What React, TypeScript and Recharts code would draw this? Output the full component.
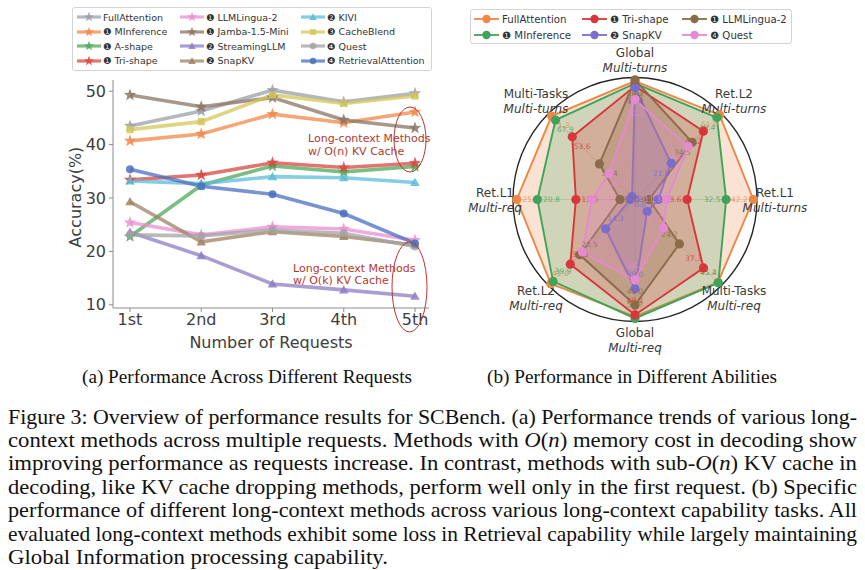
import React from 'react';
import {
  LineChart,
  Line,
  XAxis,
  YAxis,
  RadarChart,
  Radar,
  PolarGrid,
  PolarAngleAxis,
  PolarRadiusAxis,
} from 'recharts';

// ---- (a) accuracy per request ----
const requests = ['1st', '2nd', '3rd', '4th', '5th'];

const fullAttention = [43.5, 46.3, 50.2, 48.0, 49.6];
const minference = [40.7, 42.0, 45.7, 44.1, 46.1];
const aShape = [22.8, 32.4, 36.0, 34.9, 35.9];
const triShape = [33.4, 34.3, 36.6, 35.7, 36.5];
const llmlingua = [25.4, 23.1, 24.6, 24.2, 22.1];
const jamba = [49.3, 47.1, 48.8, 44.6, 43.1];
const streamingLLM = [23.6, 19.2, 13.9, 12.8, 11.6];
const snapKV = [29.3, 21.8, 23.7, 22.8, 21.2];
const kivi = [33.2, 32.7, 34.0, 33.8, 32.9];
const cacheBlend = [42.8, 44.3, 49.3, 47.7, 49.1];
const quest = [23.1, 22.9, 24.0, 23.4, 20.9];
const retrievalAttention = [35.4, 32.2, 30.7, 27.1, 21.5];

const accuracyTicks = [10, 20, 30, 40, 50];

// ---- (b) abilities (raw scores, drawn relative to each axis' max) ----
const abilityAxes = [
  'Global|Multi-turns',
  'Ret.L2|Multi-turns',
  'Ret.L1|Multi-turns',
  'Multi-Tasks|Multi-req',
  'Global|Multi-req',
  'Ret.L2|Multi-req',
  'Ret.L1|Multi-req',
  'Multi-Tasks|Multi-turns',
];
const axisMax = [37, 52, 43.5, 47, 52, 42, 26, 73.7];

const radarFull = [35.9, 51.0, 42.2, 45.2, 49.9, 41.0, 25.2, 71.3];
const radarMinference = [35.2, 49.4, 32.5, 45.4, 50.7, 39.9, 20.8, 67.9];
const radarTri = [34.4, 41.2, 18.6, 37.3, 49.2, 31.5, 12.6, 53.6];
const radarSnap = [34.0, 21.8, 8.3, 6.6, 38.0, 14.3, 1.0, 2.5];
const radarLingua = [36.3, 34.5, 5.0, 24.2, 45.0, 26.9, 3.2, 30.4];
const radarQuest = [30.3, 32.0, 11.3, 15.5, 34.3, 25.6, 9.2, 22.3];

type Shape = 'star' | 'tri' | 'square' | 'circle';

const lineSeries: { name: string; tag: string; values: number[]; color: string; shape: Shape }[] = [
  { name: 'FullAttention', tag: '', values: fullAttention, color: '#9c9fab', shape: 'star' },
  { name: 'MInference', tag: '❶', values: minference, color: '#f0884a', shape: 'star' },
  { name: 'A-shape', tag: '❶', values: aShape, color: '#4caa58', shape: 'star' },
  { name: 'Tri-shape', tag: '❶', values: triShape, color: '#d9463f', shape: 'star' },
  { name: 'LLMLingua-2', tag: '❶', values: llmlingua, color: '#e98fd1', shape: 'star' },
  { name: 'Jamba-1.5-Mini', tag: '❶', values: jamba, color: '#8a7563', shape: 'star' },
  { name: 'StreamingLLM', tag: '❷', values: streamingLLM, color: '#8d7cc6', shape: 'tri' },
  { name: 'SnapKV', tag: '❷', values: snapKV, color: '#a08262', shape: 'tri' },
  { name: 'KIVI', tag: '❷', values: kivi, color: '#5bbcd8', shape: 'tri' },
  { name: 'CacheBlend', tag: '❸', values: cacheBlend, color: '#d3c658', shape: 'square' },
  { name: 'Quest', tag: '❹', values: quest, color: '#a3a3a3', shape: 'circle' },
  { name: 'RetrievalAttention', tag: '❹', values: retrievalAttention, color: '#4a6fc2', shape: 'circle' },
];

const radarSeries = [
  { name: 'FullAttention', tag: '', values: radarFull, color: '#ee8646' },
  { name: 'MInference', tag: '❶', values: radarMinference, color: '#3fa35a' },
  { name: 'Tri-shape', tag: '❶', values: radarTri, color: '#d8363a' },
  { name: 'SnapKV', tag: '❷', values: radarSnap, color: '#7b6ccf' },
  { name: 'LLMLingua-2', tag: '❶', values: radarLingua, color: '#8b6b4a' },
  { name: 'Quest', tag: '❹', values: radarQuest, color: '#e58ad0' },
];

const CX = 195;
const CY = 199.5;
const R = 122;

function starPath(cx: number, cy: number, ro: number, ri: number) {
  let d = '';
  for (let i = 0; i < 10; i++) {
    const rad = i % 2 === 0 ? ro : ri;
    const a = -Math.PI / 2 + (i * Math.PI) / 5;
    d += (i === 0 ? 'M' : 'L') + (cx + rad * Math.cos(a)).toFixed(2) + ',' + (cy + rad * Math.sin(a)).toFixed(2);
  }
  return d + 'Z';
}

function MarkerShape({ cx, cy, shape, color, scale = 1 }: { cx: number; cy: number; shape: Shape; color: string; scale?: number }) {
  if (shape === 'star') return <path d={starPath(cx, cy, 6.5 * scale, 2.7 * scale)} fill={color} fillOpacity={0.85} />;
  if (shape === 'tri') {
    const s = 4.8 * scale;
    return <path d={`M${cx},${cy - s}L${cx + s},${cy + s * 0.75}L${cx - s},${cy + s * 0.75}Z`} fill={color} fillOpacity={0.85} />;
  }
  if (shape === 'square') {
    const s = 3.6 * scale;
    return <rect x={cx - s} y={cy - s} width={2 * s} height={2 * s} fill={color} fillOpacity={0.85} />;
  }
  return <circle cx={cx} cy={cy} r={4 * scale} fill={color} fillOpacity={0.85} />;
}

const lineDot = (shape: Shape, color: string) => (props: any) => {
  const { cx, cy, index } = props;
  if (cx == null || cy == null) return <g key={`e-${index}`} />;
  return (
    <g key={`d-${index}`}>
      <MarkerShape cx={cx} cy={cy} shape={shape} color={color} />
    </g>
  );
};

const radarDot = (si: number) => (props: any) => {
  const { cx, cy, index } = props;
  const s = radarSeries[si];
  if (cx == null || cy == null) return <g key={`e-${index}`} />;
  const dx = cx - CX;
  const dy = cy - CY;
  const dist = Math.hypot(dx, dy);
  const k = dist > 18 ? (dist - 14) / dist : 0.4;
  return (
    <g key={`rd-${index}`}>
      <circle cx={cx} cy={cy} r={4.6} fill={s.color} />
      <text
        x={CX + dx * k}
        y={CY + dy * k}
        fontSize={7.5}
        fill={s.color}
        fillOpacity={0.8}
        textAnchor="middle"
        dominantBaseline="central"
        fontFamily='"DejaVu Sans", sans-serif'
      >
        {s.values[index].toFixed(1)}
      </text>
    </g>
  );
};

const angleTick = (props: any) => {
  const { payload } = props;
  const [top, bottom] = String(payload.value).split('|');
  const a = (payload.coordinate * Math.PI) / 180;
  const x = CX + 140 * Math.cos(a);
  const y = CY - 140 * Math.sin(a);
  return (
    <g>
      <text x={x} y={y - 7} textAnchor="middle" dominantBaseline="central" fontSize={12} fill="#3a3a3a" fontFamily='"DejaVu Sans", sans-serif'>
        {top}
      </text>
      <text x={x} y={y + 8} textAnchor="middle" dominantBaseline="central" fontSize={12} fontStyle="italic" fill="#3a3a3a" fontFamily='"DejaVu Sans", sans-serif'>
        {bottom}
      </text>
    </g>
  );
};

function LegendSwatch({ color, shape }: { color: string; shape: Shape }) {
  return (
    <svg width={26} height={12} style={{ flex: 'none' }}>
      <line x1={1} y1={6} x2={25} y2={6} stroke={color} strokeWidth={3.2} strokeOpacity={0.75} />
      <MarkerShape cx={13} cy={6} shape={shape} color={color} scale={0.8} />
    </svg>
  );
}

export default function App() {
  const lineData = requests.map((r, i) => {
    const row: Record<string, any> = { request: r };
    lineSeries.forEach((s) => {
      row[s.name] = s.values[i];
    });
    return row;
  });

  const radarData = abilityAxes.map((a, i) => {
    const row: Record<string, any> = { axis: a };
    radarSeries.forEach((s) => {
      row[s.name] = (s.values[i] / axisMax[i]) * 100;
    });
    return row;
  });

  const axisColor = '#8c8c8c';
  const tickStyle = { fontSize: 16, fill: '#3d3d3d', fontFamily: '"DejaVu Sans", sans-serif' };

  const caption: React.ReactNode[] = [
    <>Figure 3: Overview of performance results for SCBench. (a) Performance trends of various long-</>,
    <>
      context methods across multiple requests. Methods with <tspan fontStyle="italic">O</tspan>(<tspan fontStyle="italic">n</tspan>) memory cost in decoding show
    </>,
    <>
      improving performance as requests increase. In contrast, methods with sub-<tspan fontStyle="italic">O</tspan>(<tspan fontStyle="italic">n</tspan>) KV cache in
    </>,
    <>decoding, like KV cache dropping methods, perform well only in the first request. (b) Specific</>,
    <>performance of different long-context methods across various long-context capability tasks. All</>,
    <>evaluated long-context methods exhibit some loss in Retrieval capability while largely maintaining</>,
    <>Global Information processing capability.</>,
  ];
  const captionY = [424, 447, 470, 494, 517, 541, 564];

  return (
    <div
      style={{
        position: 'absolute',
        left: 0,
        top: 0,
        width: 865,
        height: 570,
        background: '#fff',
        overflow: 'hidden',
        fontFamily: '"DejaVu Sans", sans-serif',
      }}
    >
      <div style={{ position: 'absolute', left: 0, top: 0 }}>
        <LineChart width={440} height={360} data={lineData} margin={{ top: 80, right: 11, bottom: 22, left: 63 }}>
          <XAxis
            dataKey="request"
            padding={{ left: 17, right: 14 }}
            interval={0}
            height={30}
            tick={tickStyle}
            tickSize={4}
            tickMargin={2}
            stroke={axisColor}
          />
          <XAxis xAxisId="top" orientation="top" dataKey="request" padding={{ left: 17, right: 14 }} height={0} tick={false} tickLine={false} stroke={axisColor} />
          <YAxis
            domain={[9.4, 52.1]}
            ticks={accuracyTicks}
            allowDataOverflow
            width={50}
            tick={tickStyle}
            tickSize={4}
            tickMargin={3}
            stroke={axisColor}
          />
          <YAxis yAxisId="right" orientation="right" domain={[9.4, 52.1]} width={0} tick={false} tickLine={false} stroke={axisColor} />
          {lineSeries.map((s) => (
            <Line
              key={s.name}
              dataKey={s.name}
              stroke={s.color}
              strokeWidth={3.6}
              strokeOpacity={0.75}
              dot={lineDot(s.shape, s.color)}
              activeDot={false}
              isAnimationActive={false}
            />
          ))}
        </LineChart>
      </div>

      {/* legend (a) */}
      <div
        style={{
          position: 'absolute',
          left: 72,
          top: 7,
          width: 360,
          height: 64,
          border: '1px solid #d4d4d4',
          borderRadius: 3,
          boxSizing: 'border-box',
          padding: '2px 0 0 3px',
          display: 'grid',
          gridAutoFlow: 'column',
          gridTemplateRows: 'repeat(4, 14.5px)',
          gridTemplateColumns: '103px 121px 130px',
          fontSize: 9.5,
          color: '#333',
        }}
      >
        {lineSeries.map((s) => (
          <div key={s.name} style={{ display: 'flex', alignItems: 'center', whiteSpace: 'nowrap' }}>
            <LegendSwatch color={s.color} shape={s.shape} />
            <span style={{ marginLeft: 1 }}>{s.tag ? `${s.tag} ${s.name}` : s.name}</span>
          </div>
        ))}
      </div>

      <div style={{ position: 'absolute', left: 440, top: 0 }}>
        <RadarChart width={425} height={360} data={radarData} cx={CX} cy={CY} outerRadius={R} margin={{ top: 0, right: 0, bottom: 0, left: 0 }}>
          <PolarGrid gridType="circle" polarRadius={[]} stroke="#d6d6d6" strokeWidth={0.8} />
          <PolarRadiusAxis domain={[0, 100]} tick={false} axisLine={false} />
          {radarSeries.map((s, i) => (
            <Radar
              key={s.name}
              name={s.name}
              dataKey={s.name}
              stroke={s.color}
              strokeWidth={1.9}
              fill={s.color}
              fillOpacity={0.23}
              dot={radarDot(i)}
              activeDot={false}
              isAnimationActive={false}
            />
          ))}
          <PolarAngleAxis dataKey="axis" tick={angleTick} tickLine={false} axisLineType="circle" axisLine={{ stroke: '#262626', strokeWidth: 1.4 }} />
        </RadarChart>
      </div>

      {/* legend (b) */}
      <div
        style={{
          position: 'absolute',
          left: 470,
          top: 9,
          width: 322,
          height: 35,
          border: '1px solid #d4d4d4',
          borderRadius: 3,
          boxSizing: 'border-box',
          padding: '1px 0 0 2px',
          display: 'grid',
          gridAutoFlow: 'column',
          gridTemplateRows: 'repeat(2, 16px)',
          gridTemplateColumns: '108px 100px 110px',
          fontSize: 10.2,
          color: '#333',
        }}
      >
        {radarSeries.map((s) => (
          <div key={s.name} style={{ display: 'flex', alignItems: 'center', whiteSpace: 'nowrap' }}>
            <svg width={27} height={12} style={{ flex: 'none' }}>
              <line x1={1} y1={6} x2={26} y2={6} stroke={s.color} strokeWidth={1.8} />
              <circle cx={13.5} cy={6} r={4.2} fill={s.color} />
            </svg>
            <span style={{ marginLeft: 2 }}>{s.tag ? `${s.tag} ${s.name}` : s.name}</span>
          </div>
        ))}
      </div>

      {/* annotations, axis titles and captions */}
      <svg width={865} height={570} style={{ position: 'absolute', left: 0, top: 0, pointerEvents: 'none' }}>
        <text x={75} y={197} transform="rotate(-90 75 197)" textAnchor="middle" dominantBaseline="central" fontSize={16} fill="#3d3d3d" fontFamily='"DejaVu Sans", sans-serif'>
          Accuracy(%)
        </text>
        <text x={271} y={342} textAnchor="middle" dominantBaseline="central" fontSize={16} fill="#3d3d3d" fontFamily='"DejaVu Sans", sans-serif'>
          Number of Requests
        </text>

        <ellipse cx={410} cy={139.5} rx={16} ry={32.5} fill="none" stroke="#b4392e" strokeWidth={1} />
        <ellipse cx={409.5} cy={287} rx={17.5} ry={45} fill="none" stroke="#b4392e" strokeWidth={1} />
        <g fontSize={11} fill="#b4392e" fontFamily='"DejaVu Sans", sans-serif'>
          <text x={308} y={142}>Long-context Methods</text>
          <text x={308} y={155}>w/ O(n) KV Cache</text>
          <text x={293} y={272}>Long-context Methods</text>
          <text x={293} y={284}>w/ O(k) KV Cache</text>
        </g>

        <g fontFamily='"Liberation Serif", "Times New Roman", serif' fill="#111">
          <text x={82} y={383} fontSize={19} textLength={330} lengthAdjust="spacingAndGlyphs">
            (a) Performance Across Different Requests
          </text>
          <text x={487} y={383} fontSize={19} textLength={290} lengthAdjust="spacingAndGlyphs">
            (b) Performance in Different Abilities
          </text>
          {caption.map((c, i) => (
            <text
              key={i}
              x={8}
              y={captionY[i]}
              fontSize={22}
              textLength={i === caption.length - 1 ? 380 : 849}
              lengthAdjust="spacingAndGlyphs"
            >
              {c}
            </text>
          ))}
        </g>
      </svg>
    </div>
  );
}
